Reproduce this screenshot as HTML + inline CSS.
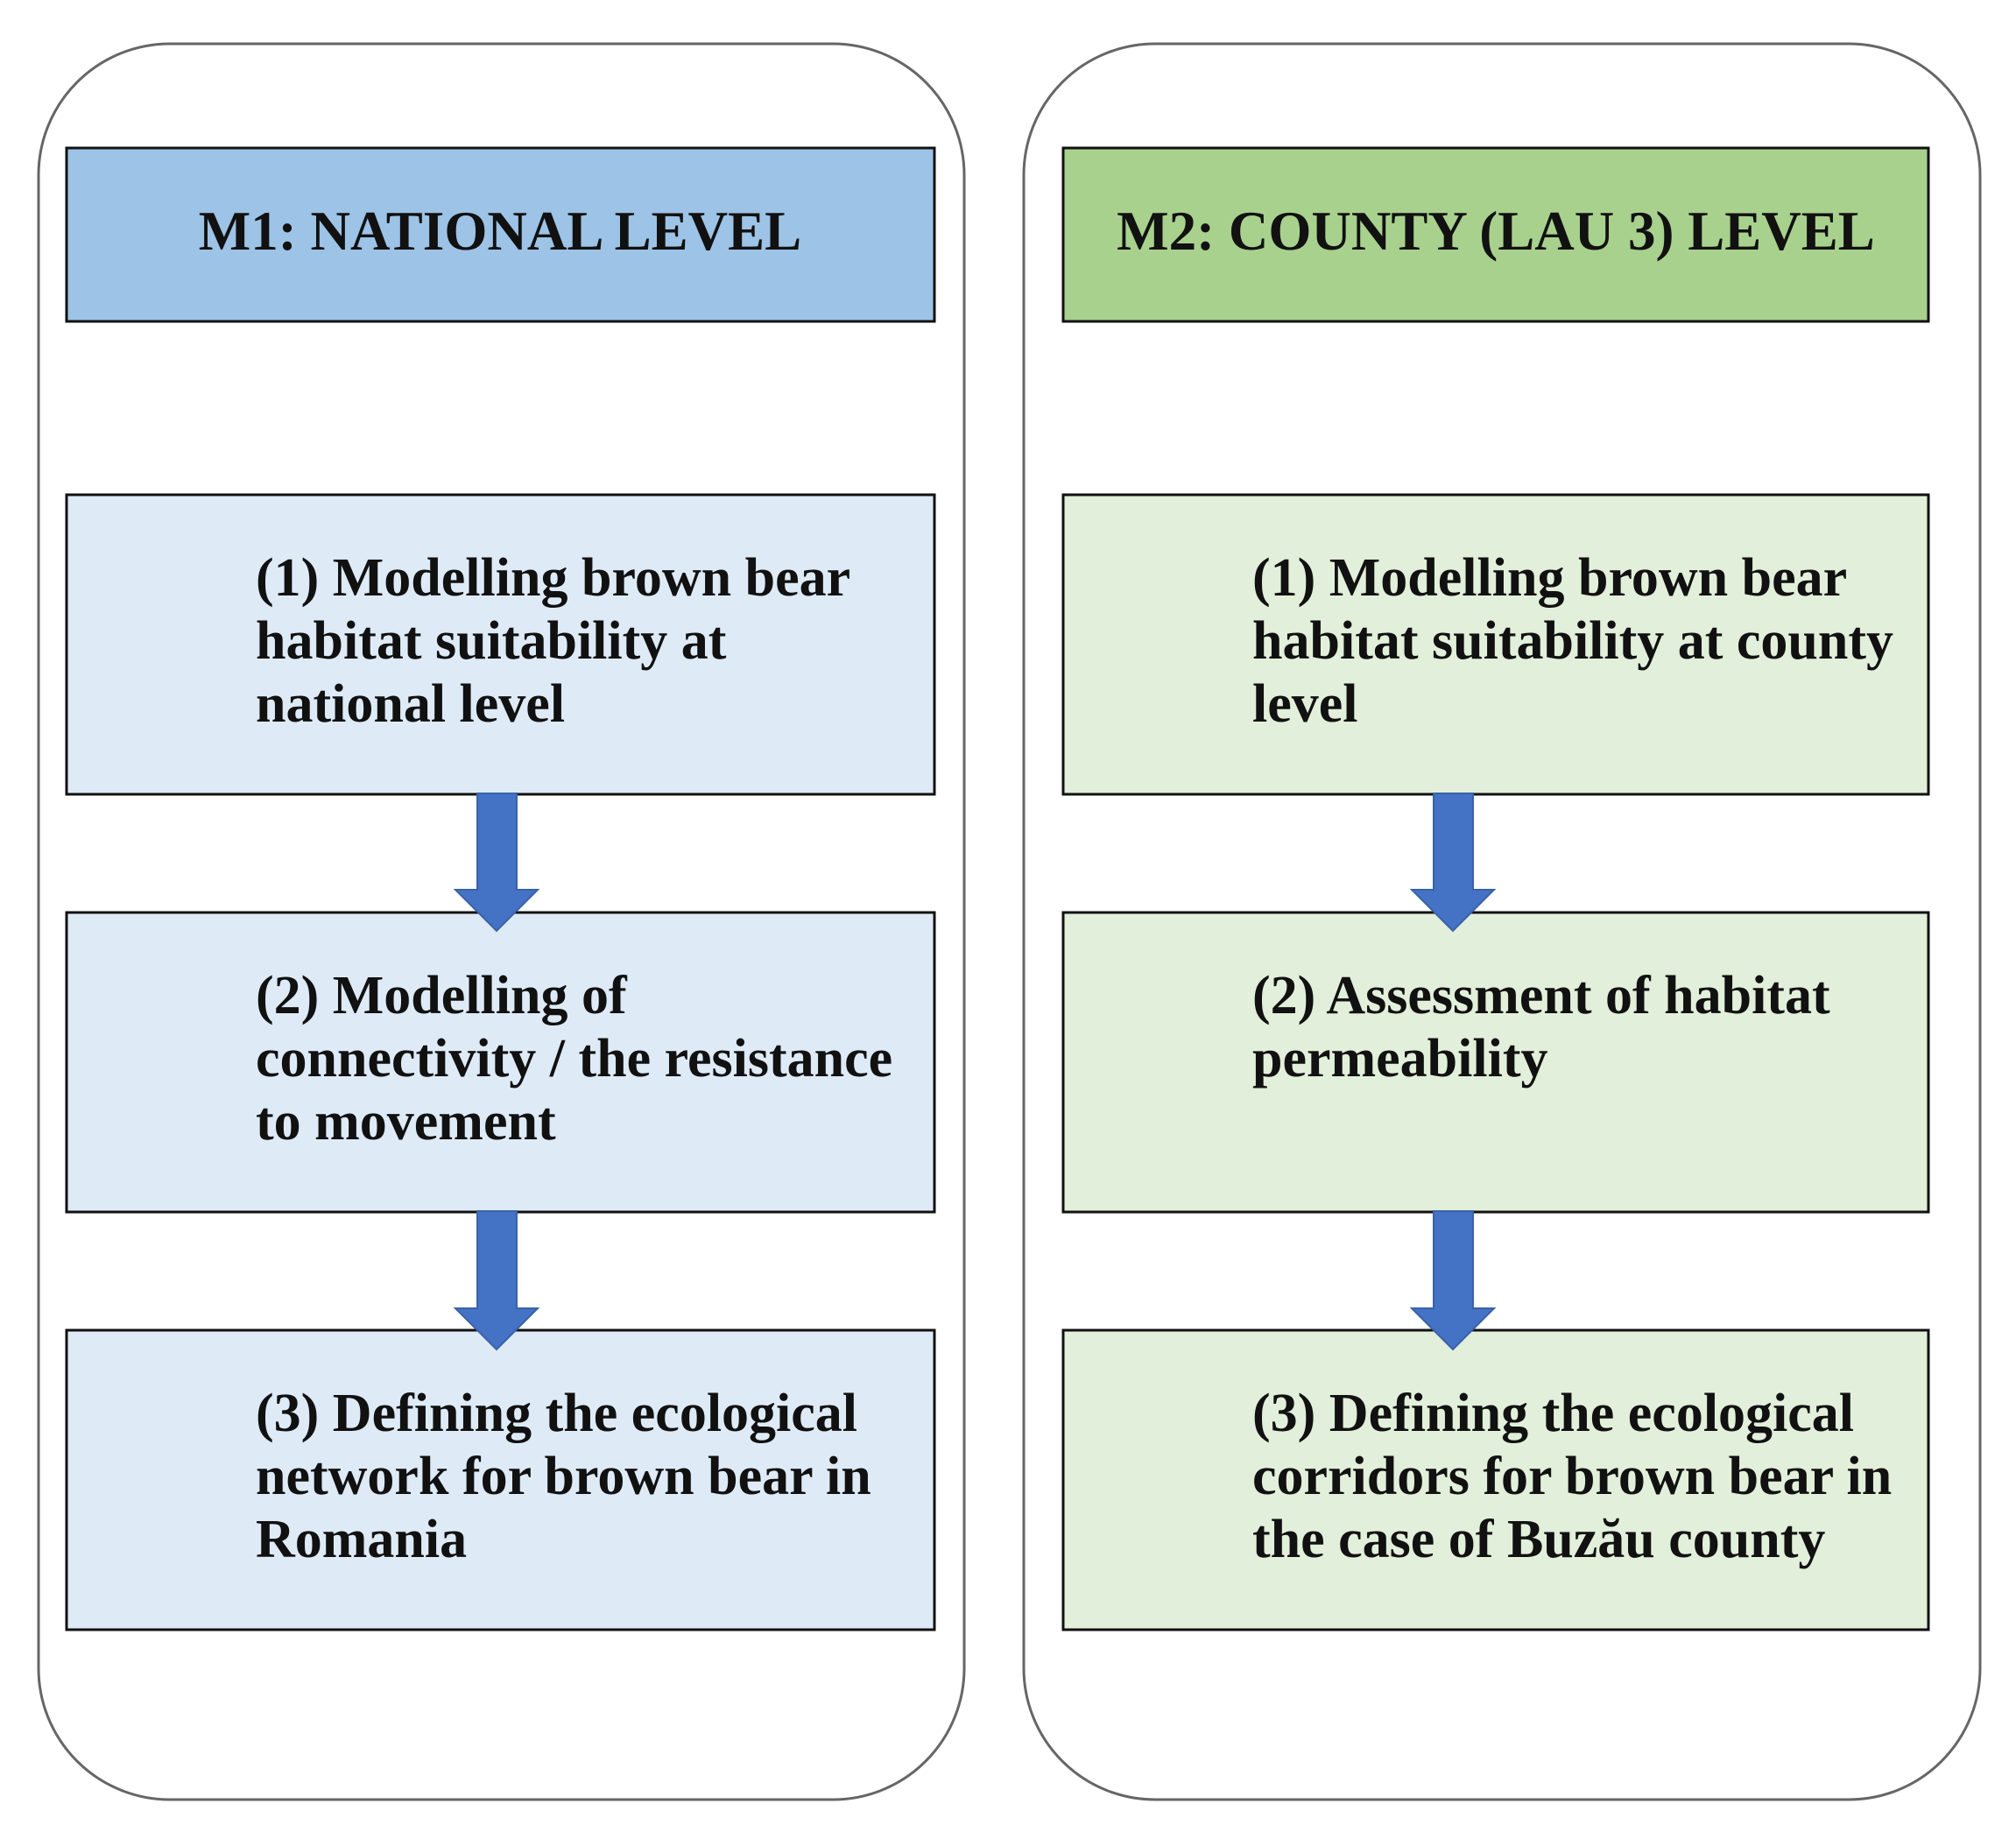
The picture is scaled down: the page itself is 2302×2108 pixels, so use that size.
<!DOCTYPE html>
<html><head><meta charset="utf-8"><style>
body{margin:0;background:#fff;}
svg text{font-family:"Liberation Serif",serif;font-weight:bold;fill:#111;}
</style></head><body>
<svg width="2302" height="2103" viewBox="0 0 2302 2103" xmlns="http://www.w3.org/2000/svg">
<rect x="44" y="50" width="1057" height="2005" rx="150" ry="150" fill="#fff" stroke="#666" stroke-width="3"/>
<rect x="1169" y="50" width="1092" height="2005" rx="150" ry="150" fill="#fff" stroke="#666" stroke-width="3"/>

<rect x="76" y="169" width="991" height="198" fill="#9DC3E6" stroke="#111" stroke-width="3"/>
<rect x="1214" y="169" width="988" height="198" fill="#A9D18E" stroke="#111" stroke-width="3"/>
<text x="571" y="285" font-size="63" text-anchor="middle">M1: NATIONAL LEVEL</text>
<text x="1708" y="285" font-size="63" text-anchor="middle">M2: COUNTY (LAU 3) LEVEL</text>

<g fill="#DEEBF7" stroke="#111" stroke-width="3">
<rect x="76" y="565" width="991" height="342"/>
<rect x="76" y="1042" width="991" height="342"/>
<rect x="76" y="1519" width="991" height="342"/>
</g>
<g fill="#E2EFDA" stroke="#111" stroke-width="3">
<rect x="1214" y="565" width="988" height="342"/>
<rect x="1214" y="1042" width="988" height="342"/>
<rect x="1214" y="1519" width="988" height="342"/>
</g>

<g fill="#4472C4" stroke="#3a62a8" stroke-width="2">
<polygon points="545,906 590,906 590,1016 614,1016 567,1063 520,1016 545,1016"/>
<polygon points="545,1383 590,1383 590,1494 614,1494 567,1541 520,1494 545,1494"/>
<polygon points="1637,906 1682,906 1682,1016 1706,1016 1659,1063 1612,1016 1637,1016"/>
<polygon points="1637,1383 1682,1383 1682,1494 1706,1494 1659,1541 1612,1494 1637,1494"/>
</g>

<g font-size="62">
<text x="292" y="680">(1) Modelling brown bear</text>
<text x="292" y="752">habitat suitability at</text>
<text x="292" y="824">national level</text>
<text x="292" y="1157">(2) Modelling of</text>
<text x="292" y="1229">connectivity / the resistance</text>
<text x="292" y="1301">to movement</text>
<text x="292" y="1634">(3) Defining the ecological</text>
<text x="292" y="1706">network for brown bear in</text>
<text x="292" y="1778">Romania</text>

<text x="1430" y="680">(1) Modelling brown bear</text>
<text x="1430" y="752">habitat suitability at county</text>
<text x="1430" y="824">level</text>
<text x="1430" y="1157">(2) Assessment of habitat</text>
<text x="1430" y="1229">permeability</text>
<text x="1430" y="1634">(3) Defining the ecological</text>
<text x="1430" y="1706">corridors for brown bear in</text>
<text x="1430" y="1778">the case of Buzău county</text>
</g>
</svg>
</body></html>
